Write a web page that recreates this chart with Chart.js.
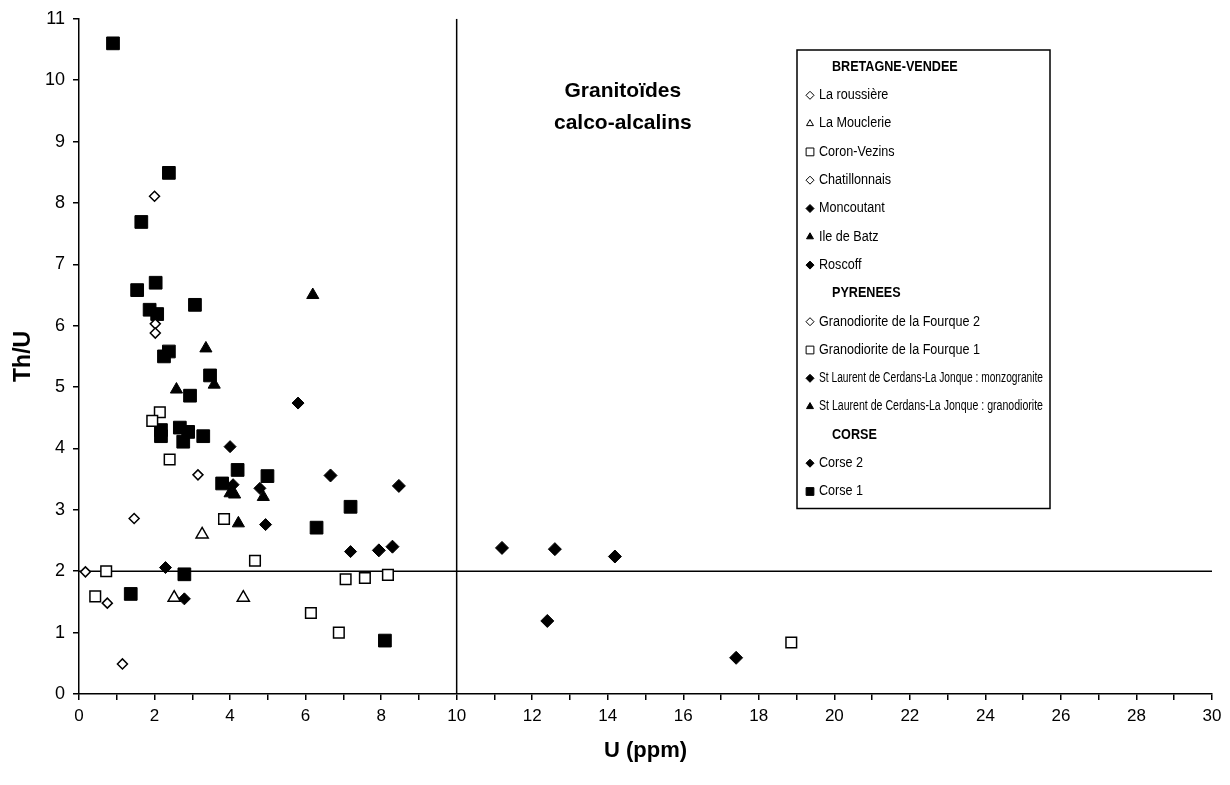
<!DOCTYPE html>
<html>
<head>
<meta charset="utf-8">
<script src="https://cdn.jsdelivr.net/npm/chart.js@4.4.1/dist/chart.umd.min.js"></script>
<style>
  html, body { margin: 0; padding: 0; background: #fff; }
  #wrap { width: 1230px; height: 785px; }
</style>
</head>
<body>
<div id="wrap"><canvas id="myChart" width="1230" height="785"></canvas></div>
<script>
// [U (ppm), Th/U]
const laRoussiere = [[1.46, 2.86], [0.75, 1.48], [0.17, 1.99]]
const laMouclerie = [[3.26, 2.6], [2.52, 1.57], [4.35, 1.57]]
const coronVezins = [[0.72, 2.0], [0.43, 1.59], [2.14, 4.59], [1.94, 4.45], [2.4, 3.82]]
const chatillonnais = [[1.15, 0.49], [3.15, 3.57]]
const moncoutant = [[2.29, 2.06], [2.79, 1.55], [4.79, 3.35], [7.19, 2.32]]
const ileDeBatz = [[3.36, 5.63], [3.58, 5.04], [2.58, 4.96], [6.19, 6.5], [4.88, 3.21], [4.22, 2.78]]
const roscoff = [[4.0, 4.03], [4.08, 3.41]]
const fourque2 = [[2.0, 8.11], [2.02, 6.03], [2.02, 5.88]]
const fourque1 = [[3.84, 2.85], [4.66, 2.17], [7.06, 1.87], [7.57, 1.89], [8.18, 1.94], [6.14, 1.32], [6.88, 1.0], [18.86, 0.84]]
const stLaurentMonzo = [[5.8, 4.74], [4.94, 2.76]]
const stLaurentGrano = [[4.0, 3.27], [4.12, 3.25]]
const corse2 = [[6.66, 3.56], [8.47, 3.39], [7.94, 2.34], [8.3, 2.4], [11.2, 2.38], [12.6, 2.36], [14.19, 2.24], [12.4, 1.19], [17.4, 0.59]]
const corse1 = [[0.9, 10.6], [2.38, 8.49], [1.65, 7.69], [1.54, 6.58], [2.03, 6.7], [1.87, 6.26], [2.07, 6.19], [3.07, 6.34],
  [2.25, 5.5], [2.38, 5.58], [3.47, 5.19], [2.94, 4.86], [2.17, 4.3], [2.17, 4.2], [2.67, 4.34], [2.89, 4.27], [2.76, 4.11],
  [3.29, 4.2], [4.2, 3.65], [4.99, 3.55], [3.79, 3.43], [7.19, 3.05], [6.29, 2.71], [2.79, 1.95], [1.37, 1.63], [8.1, 0.87]]

const uLimit = 10
const thuLimit = 2
const xMax = 30
const yMax = 11

const groups = [
  {title: 'BRETAGNE-VENDEE', sets: [0, 1, 2, 3, 4, 5, 6]},
  {title: 'PYRENEES', sets: [7, 8, 9, 10]},
  {title: 'CORSE', sets: [11, 12]}
]

const toPts = (arr) => arr.map(p => ({x: p[0], y: p[1]}))

function series(label, arr, style, filled, radius, order) {
  return {
    label: label,
    data: toPts(arr),
    pointStyle: style,
    pointRadius: radius,
    pointHoverRadius: radius,
    pointBackgroundColor: filled ? '#000' : '#fff',
    pointBorderColor: '#000',
    pointBorderWidth: filled ? 1 : 1.5,
    showLine: false,
    order: order || 0,
    legendRadius: style == 'rect' ? 5.5 : 4
  }
}

const datasets = [
  series('La roussière', laRoussiere, 'rectRot', false, 5),
  series('La Mouclerie', laMouclerie, 'triangle', false, 7),
  series('Coron-Vezins', coronVezins, 'rect', false, 7.5),
  series('Chatillonnais', chatillonnais, 'rectRot', false, 5),
  series('Moncoutant', moncoutant, 'rectRot', true, 6),
  series('Ile de Batz', ileDeBatz, 'triangle', true, 7),
  series('Roscoff', roscoff, 'rectRot', true, 6),
  series('Granodiorite de la Fourque 2', fourque2, 'rectRot', false, 5),
  series('Granodiorite de la Fourque 1', fourque1, 'rect', false, 7.5),
  series('St Laurent de Cerdans-La Jonque : monzogranite', stLaurentMonzo, 'rectRot', true, 6),
  series('St Laurent de Cerdans-La Jonque : granodiorite', stLaurentGrano, 'triangle', true, 7),
  series('Corse 2', corse2, 'rectRot', true, 6.5),
  series('Corse 1', corse1, 'rect', true, 9, 50)
]

// limit lines U = 10 and Th/U = 2
datasets.push({
  type: 'line', data: [{x: uLimit, y: 0}, {x: uLimit, y: yMax}],
  borderColor: '#000', borderWidth: 1.5, pointRadius: 0, order: 100
})
datasets.push({
  type: 'line', data: [{x: 0, y: thuLimit}, {x: xMax, y: thuLimit}],
  borderColor: '#000', borderWidth: 1.5, pointRadius: 0, order: 100
})

const FONT = '"Liberation Sans", Arial, sans-serif'
const SQUEEZE = 0.9   // legend text in the scan is a bit condensed
const LABEL_MAX = 224 // longest labels are squeezed further to fit the box

function narrowText(ctx, txt, x, y) {
  ctx.save()
  ctx.translate(x, y)
  ctx.scale(SQUEEZE, 1)
  ctx.fillText(txt, 0, 0, LABEL_MAX / SQUEEZE)
  ctx.restore()
}

const legendBox = {
  id: 'legendBox',
  afterDatasetsDraw(chart) {
    const ctx = chart.ctx
    const left = 797, top = 50, rowH = 28.3, firstRow = 67
    const rows = []
    groups.forEach(g => {
      rows.push({header: g.title})
      g.sets.forEach(i => rows.push({ds: chart.data.datasets[i]}))
    })
    ctx.save()
    const right = left + 22 + LABEL_MAX + 7
    const bottom = firstRow + (rows.length - 1) * rowH + 17
    ctx.fillStyle = '#fff'
    ctx.fillRect(left, top, right - left, bottom - top)
    ctx.strokeStyle = '#000'
    ctx.lineWidth = 1.5
    ctx.strokeRect(left, top, right - left, bottom - top)
    ctx.textBaseline = 'middle'
    rows.forEach((r, k) => {
      const y = firstRow + k * rowH
      if (r.header) {
        ctx.font = 'bold 14px ' + FONT
        ctx.fillStyle = '#000'
        narrowText(ctx, r.header, left + 35, y)
      } else {
        const ds = r.ds
        ctx.fillStyle = ds.pointBackgroundColor
        ctx.strokeStyle = '#000'
        ctx.lineWidth = 1
        Chart.helpers.drawPoint(ctx, {pointStyle: ds.pointStyle, radius: ds.legendRadius, rotation: 0, borderWidth: 1}, left + 13, y)
        ctx.font = '14px ' + FONT
        ctx.fillStyle = '#000'
        narrowText(ctx, ds.label, left + 22, y)
      }
    })
    // field label
    const xs = chart.scales.x, ys = chart.scales.y
    ctx.font = 'bold 21px ' + FONT
    ctx.textAlign = 'center'
    ctx.fillStyle = '#000'
    ctx.fillText('Granitoïdes', xs.getPixelForValue(14.4), ys.getPixelForValue(9.82))
    ctx.fillText('calco-alcalins', xs.getPixelForValue(14.4), ys.getPixelForValue(9.3))
    ctx.restore()
  }
}

const ctx = document.getElementById('myChart')
const chart = new Chart(ctx, {
  type: 'scatter',
  data: {datasets: datasets},
  options: {
    responsive: false,
    animation: false,
    layout: {padding: {left: 0, right: 18, top: 15, bottom: 0}},
    plugins: {legend: {display: false}, tooltip: {enabled: false}},
    scales: {
      x: {
        type: 'linear', min: 0, max: xMax,
        afterFit: (s) => { s.height = 91 },
        border: {display: true, color: '#000', width: 1.5},
        grid: {display: true, drawOnChartArea: false, drawTicks: true, tickLength: 6, color: '#000', lineWidth: 1.5},
        ticks: {
          stepSize: 1, color: '#000', padding: 6, maxRotation: 0, autoSkip: false,
          font: {family: FONT, size: 17},
          callback: (v) => (v % 2 == 0 ? String(v) : '')
        },
        title: {display: true, text: 'U (ppm)', color: '#000', font: {family: FONT, size: 22, weight: 'bold'}, padding: {top: 4, bottom: 21}}
      },
      y: {
        type: 'linear', min: 0, max: yMax,
        afterFit: (s) => { s.width = 79 },
        border: {display: true, color: '#000', width: 1.5},
        grid: {display: true, drawOnChartArea: false, drawTicks: true, tickLength: 6, color: '#000', lineWidth: 1.5},
        ticks: {stepSize: 1, color: '#000', padding: 8, font: {family: FONT, size: 18}},
        title: {display: true, text: 'Th/U', color: '#000', font: {family: FONT, size: 23, weight: 'bold'}, padding: {top: 10, bottom: 0}}
      }
    }
  },
  plugins: [legendBox]
})
</script>
</body>
</html>
